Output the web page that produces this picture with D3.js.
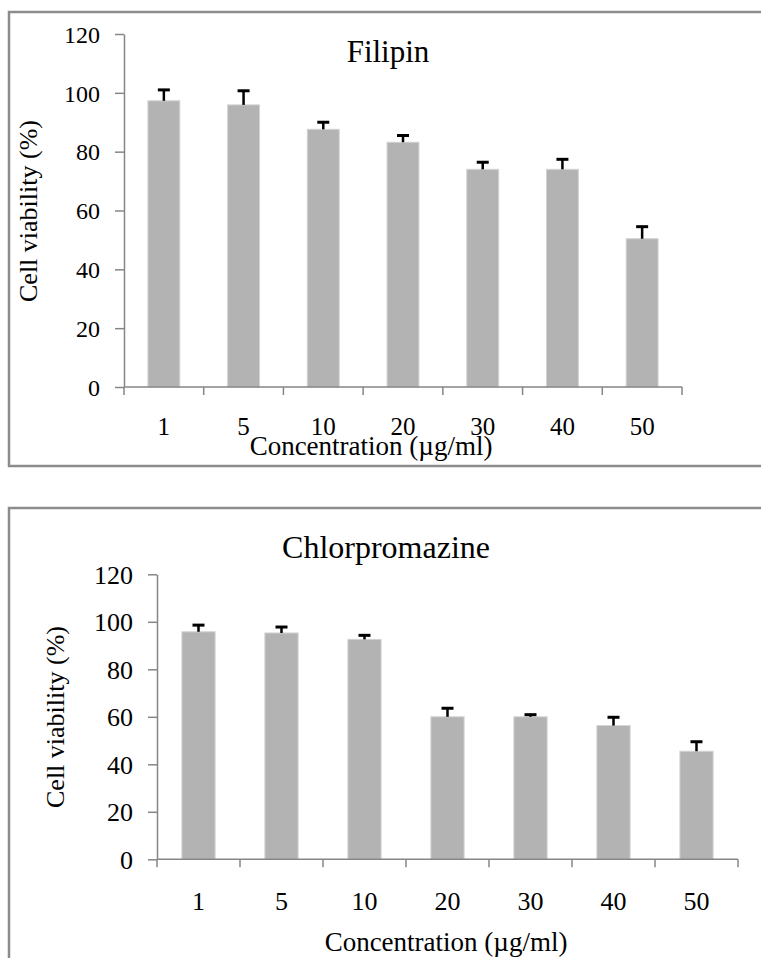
<!DOCTYPE html>
<html>
<head>
<meta charset="utf-8">
<script src="https://cdn.jsdelivr.net/npm/d3@7"></script>
<style>
  html, body { margin: 0; padding: 0; background: #fff; }
  svg { display: block; }
  svg text { font-family: "Liberation Serif", "Times New Roman", Times, serif !important; fill: #000; }
</style>
</head>
<body>
<div id="viz"></div>
<script>
// concentrations (ug/ml) on the x axis
var concentrations = ['1', '5', '10', '20', '30', '40', '50'];
var y_ticks = [0, 20, 40, 60, 80, 100, 120];

// Filipin: mean cell viability (%) and upper error
var filipin_means = [97.3, 95.9, 87.6, 83.2, 74.0, 74.0, 50.4];
var filipin_errors = [3.7, 4.8, 2.4, 2.3, 2.4, 3.4, 4.1];

// Chlorpromazine: mean cell viability (%) and upper error
var chlor_means = [95.8, 95.3, 92.6, 60.0, 60.0, 56.3, 45.5];
var chlor_errors = [2.8, 2.5, 1.7, 3.6, 0.9, 3.5, 4.0];

var width = 761, height = 958;
var axis_color = '#868686';
var bar_color = '#b3b3b3';
var serif = '"Liberation Serif", "Times New Roman", Times, serif';

var svg = d3.select('#viz')
  .append('svg')
  .attr('width', width)
  .attr('height', height)
  .style('font-family', serif);

svg.append('rect')
  .attr('width', width)
  .attr('height', height)
  .attr('fill', 'white');

function make_panel(p) {

  var g = svg.append('g').classed('panel', true);

  // grey frame round the panel
  g.append('rect')
    .attr('x', p.frame.x)
    .attr('y', p.frame.y)
    .attr('width', p.frame.w)
    .attr('height', p.frame.h)
    .attr('fill', 'none')
    .attr('stroke', '#8c8c8c')
    .attr('stroke-width', 2.5);

  var x = d3.scaleBand()
    .domain(concentrations)
    .range([p.left, p.right])
    .paddingInner(0.6)
    .paddingOuter(0.3);

  var y = d3.scaleLinear()
    .domain([0, 120])
    .range([p.bottom, p.top]);

  var rows = concentrations.map(function(c, i) {
    return {conc: c, mean: p.means[i], err: p.errors[i]};
  });

  // bars
  g.append('g')
    .selectAll('rect')
    .data(rows)
    .enter()
    .append('rect')
    .attr('x', function(d) { return x(d.conc); })
    .attr('y', function(d) { return y(d.mean); })
    .attr('width', x.bandwidth())
    .attr('height', function(d) { return y(0) - y(d.mean); })
    .attr('fill', bar_color)
    .attr('stroke', '#d2d2d2')
    .attr('stroke-width', 1);

  // error bars (upper half only)
  var err_g = g.append('g')
    .selectAll('g')
    .data(rows)
    .enter()
    .append('g')
    .attr('transform', function(d) {
      return 'translate(' + (x(d.conc) + x.bandwidth() / 2) + ',0)';
    });

  err_g.append('line')
    .attr('x1', 0).attr('x2', 0)
    .attr('y1', function(d) { return y(d.mean); })
    .attr('y2', function(d) { return y(d.mean + d.err); })
    .attr('stroke', '#000')
    .attr('stroke-width', 2.5);

  err_g.append('line')
    .attr('x1', -6).attr('x2', 6)
    .attr('y1', function(d) { return y(d.mean + d.err); })
    .attr('y2', function(d) { return y(d.mean + d.err); })
    .attr('stroke', '#000')
    .attr('stroke-width', 3);

  // y axis
  var y_axis = g.append('g')
    .attr('transform', 'translate(' + p.left + ',0)')
    .call(d3.axisLeft(y)
      .tickValues(y_ticks)
      .tickSize(9)
      .tickSizeOuter(0)
      .tickPadding(p.y_pad))
    .attr('font-family', null)
    .attr('font-size', null);

  y_axis.select('.domain').attr('stroke', axis_color).attr('stroke-width', 1.5);
  y_axis.selectAll('.tick line').attr('stroke', axis_color).attr('stroke-width', 1.5);
  y_axis.selectAll('.tick text')
    .style('font-family', serif)
    .style('font-size', p.y_fs + 'px')
    .attr('fill', '#000')
    .attr('dy', '0.34em');

  // x axis: labels at band centres, ticks at band edges
  var x_axis = g.append('g')
    .attr('transform', 'translate(0,' + p.bottom + ')')
    .call(d3.axisBottom(x).tickSize(0).tickSizeOuter(0))
    .attr('font-family', null)
    .attr('font-size', null);

  x_axis.select('.domain').remove();
  x_axis.selectAll('.tick text')
    .style('font-family', serif)
    .style('font-size', p.x_fs + 'px')
    .attr('fill', '#000')
    .attr('y', p.x_label_base - p.bottom)
    .attr('dy', 0);

  var edges = d3.range(concentrations.length + 1).map(function(i) {
    return p.left + i * x.step();
  });

  x_axis.append('line')
    .attr('x1', p.left).attr('x2', p.right)
    .attr('y1', 0).attr('y2', 0)
    .attr('stroke', axis_color)
    .attr('stroke-width', 1.5);

  x_axis.selectAll('line.edge')
    .data(edges)
    .enter()
    .append('line')
    .classed('edge', true)
    .attr('x1', function(d) { return d; })
    .attr('x2', function(d) { return d; })
    .attr('y1', 0)
    .attr('y2', 8)
    .attr('stroke', axis_color)
    .attr('stroke-width', 1.5);

  // title
  g.append('text')
    .attr('x', p.title_x)
    .attr('y', p.title_y)
    .attr('text-anchor', 'middle')
    .style('font-family', serif)
    .style('font-size', p.title_fs + 'px')
    .text(p.title);

  // axis titles
  g.append('text')
    .attr('x', p.xt_x)
    .attr('y', p.xt_y)
    .attr('text-anchor', 'middle')
    .style('font-family', serif)
    .style('font-size', '27px')
    .text('Concentration (\u00b5g/ml)');

  g.append('text')
    .attr('transform', 'translate(' + p.yt_x + ',' + p.yt_y + ') rotate(-90)')
    .attr('text-anchor', 'middle')
    .style('font-family', serif)
    .style('font-size', '26px')
    .text('Cell viability (%)');
}

make_panel({
  title: 'Filipin', means: filipin_means, errors: filipin_errors,
  frame: {x: 9, y: 12, w: 770, h: 454},
  left: 124, right: 682, top: 34, bottom: 387,
  y_pad: 15, y_fs: 24, x_fs: 25, x_label_base: 435,
  title_x: 388, title_y: 62, title_fs: 31,
  xt_x: 371, xt_y: 455,
  yt_x: 37, yt_y: 211
});

make_panel({
  title: 'Chlorpromazine', means: chlor_means, errors: chlor_errors,
  frame: {x: 9, y: 508, w: 770, h: 470},
  left: 157, right: 738, top: 574.3, bottom: 859.3,
  y_pad: 15, y_fs: 26, x_fs: 26, x_label_base: 910,
  title_x: 386, title_y: 558, title_fs: 32,
  xt_x: 446, xt_y: 951,
  yt_x: 64, yt_y: 717
});
</script>
</body>
</html>
